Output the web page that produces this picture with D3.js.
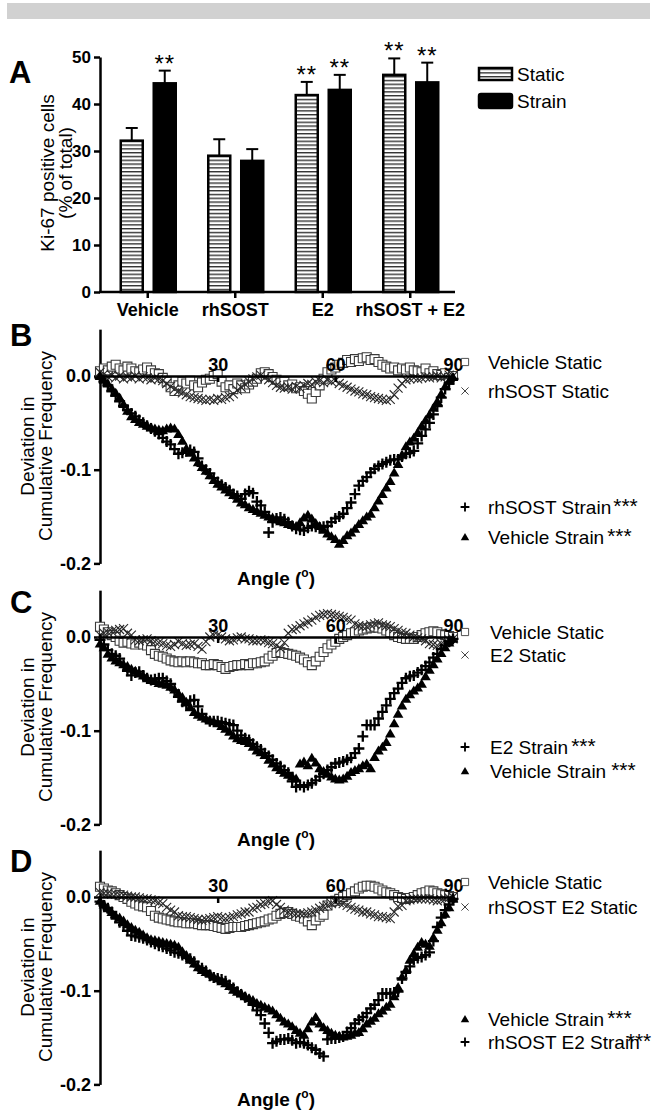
<!DOCTYPE html>
<html>
<head>
<meta charset="utf-8">
<script src="https://cdn.jsdelivr.net/npm/d3@7"></script>
<style>
  body { margin: 0; background: #fff; }
  svg text { font-family: "Liberation Sans", Arial, Helvetica, sans-serif; fill: #000; }
</style>
</head>
<body>
<svg id="fig" width="654" height="1111"></svg>
<script>
// ---- panel A : Ki-67 bars ----
const groups = ["Vehicle", "rhSOST", "E2", "rhSOST + E2"];
const conditions = ["Static", "Strain"];
const staticMean = [32.2, 29.0, 41.9, 46.2];
const staticSem  = [2.7, 3.5, 2.8, 3.5];
const strainMean = [44.4, 27.9, 43.0, 44.6];
const strainSem  = [2.7, 2.5, 3.2, 4.2];
const staticStars = ["", "", "**", "**"];
const strainStars = ["**", "", "**", "**"];
const barTicks = [0, 10, 20, 30, 40, 50];

// ---- panels B-D : deviation in cumulative frequency, one value per degree 0..90 ----
const angles = d3.range(0, 91);
const angleTicks = [30, 60, 90];
const devTicks = [0, -0.1, -0.2];

const bVehicleStatic = [0.005,0.008,0.006,0.010,0.012,0.008,0.006,0.010,0.008,0.005,0.004,0.007,0.009,0.006,0.003,0.002,-0.002,-0.006,-0.012,-0.016,-0.010,-0.006,-0.008,-0.005,-0.010,-0.012,-0.007,-0.004,-0.003,0.000,0.002,-0.006,-0.012,-0.010,-0.014,-0.008,-0.010,-0.013,-0.009,-0.006,-0.003,0.003,0.004,0.002,-0.001,-0.004,-0.007,-0.006,-0.010,-0.009,-0.013,-0.012,-0.016,-0.019,-0.024,-0.017,-0.010,-0.003,0.004,0.007,0.009,0.012,0.014,0.017,0.015,0.018,0.016,0.019,0.020,0.017,0.018,0.015,0.012,0.010,0.008,0.009,0.006,0.008,0.007,0.009,0.006,0.005,0.004,0.008,0.003,0.005,0.002,0.001,0.003,-0.002,0.000];
const bRhsostStatic = [0.004,0.002,-0.001,0.001,-0.002,0.000,-0.003,-0.001,-0.002,0.000,-0.003,-0.001,-0.002,-0.004,-0.002,-0.003,-0.005,-0.008,-0.011,-0.014,-0.016,-0.018,-0.020,-0.022,-0.023,-0.024,-0.025,-0.026,-0.025,-0.026,-0.024,-0.025,-0.023,-0.022,-0.019,-0.015,-0.012,-0.009,-0.006,-0.003,-0.001,0.001,-0.002,-0.004,-0.007,-0.010,-0.012,-0.013,-0.012,-0.014,-0.011,-0.013,-0.010,-0.008,-0.009,-0.006,-0.005,-0.007,-0.004,-0.006,-0.005,-0.008,-0.010,-0.012,-0.014,-0.016,-0.017,-0.019,-0.020,-0.022,-0.023,-0.024,-0.025,-0.026,-0.025,-0.020,-0.013,-0.008,-0.004,-0.003,-0.002,-0.003,-0.002,-0.001,-0.002,-0.001,0.000,-0.002,-0.001,0.001,0.000];
const bRhsostStrain = [-0.002,-0.006,-0.010,-0.016,-0.021,-0.027,-0.032,-0.036,-0.040,-0.043,-0.047,-0.050,-0.053,-0.056,-0.059,-0.062,-0.066,-0.070,-0.073,-0.078,-0.083,-0.082,-0.080,-0.079,-0.081,-0.088,-0.096,-0.100,-0.104,-0.109,-0.113,-0.116,-0.119,-0.122,-0.126,-0.128,-0.131,-0.126,-0.123,-0.125,-0.134,-0.138,-0.145,-0.167,-0.156,-0.152,-0.151,-0.153,-0.156,-0.160,-0.163,-0.164,-0.165,-0.162,-0.160,-0.161,-0.162,-0.161,-0.160,-0.156,-0.152,-0.150,-0.147,-0.141,-0.135,-0.126,-0.117,-0.112,-0.108,-0.103,-0.099,-0.096,-0.094,-0.092,-0.090,-0.089,-0.089,-0.086,-0.083,-0.082,-0.080,-0.072,-0.064,-0.057,-0.050,-0.041,-0.032,-0.023,-0.014,-0.008,-0.003];
const bVehicleStrain = [0.000,-0.004,-0.008,-0.013,-0.018,-0.023,-0.030,-0.037,-0.043,-0.046,-0.049,-0.051,-0.053,-0.055,-0.056,-0.057,-0.058,-0.056,-0.055,-0.056,-0.062,-0.069,-0.077,-0.082,-0.087,-0.092,-0.097,-0.101,-0.106,-0.111,-0.115,-0.118,-0.121,-0.124,-0.127,-0.131,-0.135,-0.137,-0.140,-0.142,-0.144,-0.146,-0.148,-0.150,-0.151,-0.153,-0.155,-0.156,-0.158,-0.159,-0.160,-0.156,-0.151,-0.148,-0.152,-0.157,-0.160,-0.164,-0.168,-0.171,-0.174,-0.179,-0.175,-0.170,-0.167,-0.163,-0.158,-0.154,-0.150,-0.147,-0.140,-0.133,-0.126,-0.119,-0.112,-0.103,-0.094,-0.084,-0.075,-0.070,-0.066,-0.060,-0.053,-0.047,-0.041,-0.034,-0.027,-0.019,-0.011,-0.005,-0.001];

const cVehicleStatic = [0.011,0.008,0.005,0.002,0.000,-0.004,-0.006,-0.005,-0.007,-0.008,-0.006,-0.008,-0.009,-0.014,-0.018,-0.020,-0.021,-0.023,-0.025,-0.026,-0.027,-0.026,-0.027,-0.026,-0.027,-0.028,-0.028,-0.030,-0.030,-0.029,-0.030,-0.032,-0.034,-0.032,-0.031,-0.030,-0.030,-0.029,-0.030,-0.028,-0.028,-0.027,-0.026,-0.023,-0.020,-0.017,-0.016,-0.017,-0.018,-0.019,-0.020,-0.022,-0.024,-0.027,-0.030,-0.026,-0.021,-0.016,-0.012,-0.008,-0.005,-0.002,0.000,0.002,0.004,0.005,0.007,0.008,0.009,0.010,0.011,0.010,0.009,0.007,0.005,0.002,0.000,-0.001,-0.002,-0.002,-0.002,0.000,0.002,0.004,0.005,0.006,0.005,0.003,0.002,0.001,0.000];
const cE2Static = [0.002,0.004,0.005,0.006,0.007,0.008,0.009,0.004,0.002,-0.003,-0.004,-0.003,-0.002,-0.004,-0.005,-0.006,-0.007,-0.009,-0.010,-0.008,-0.005,-0.007,-0.009,-0.008,-0.007,-0.010,-0.013,-0.005,0.000,0.002,0.002,0.000,-0.002,-0.004,-0.003,-0.001,0.000,-0.002,-0.002,-0.004,-0.004,-0.003,-0.004,-0.006,-0.007,-0.009,-0.012,-0.006,0.004,0.008,0.009,0.012,0.014,0.016,0.018,0.021,0.023,0.024,0.025,0.024,0.023,0.022,0.021,0.019,0.018,0.014,0.012,0.011,0.011,0.013,0.014,0.015,0.013,0.012,0.011,0.009,0.007,0.005,0.004,0.002,0.000,-0.001,-0.002,-0.004,-0.007,-0.008,-0.009,-0.007,-0.005,-0.003,-0.002];
const cE2Strain = [-0.003,-0.008,-0.014,-0.018,-0.020,-0.023,-0.030,-0.036,-0.041,-0.038,-0.037,-0.041,-0.044,-0.046,-0.045,-0.044,-0.044,-0.047,-0.050,-0.057,-0.064,-0.069,-0.073,-0.068,-0.067,-0.074,-0.082,-0.087,-0.090,-0.090,-0.090,-0.091,-0.092,-0.093,-0.094,-0.100,-0.105,-0.108,-0.110,-0.114,-0.117,-0.120,-0.124,-0.127,-0.131,-0.135,-0.138,-0.142,-0.145,-0.154,-0.160,-0.158,-0.160,-0.158,-0.156,-0.153,-0.149,-0.146,-0.142,-0.139,-0.135,-0.134,-0.133,-0.131,-0.129,-0.124,-0.119,-0.106,-0.094,-0.094,-0.094,-0.087,-0.080,-0.073,-0.066,-0.060,-0.055,-0.049,-0.044,-0.042,-0.041,-0.038,-0.035,-0.031,-0.027,-0.022,-0.018,-0.013,-0.009,-0.005,-0.002];
const cVehicleStrain = [-0.007,-0.011,-0.018,-0.022,-0.025,-0.027,-0.029,-0.031,-0.034,-0.036,-0.039,-0.041,-0.044,-0.046,-0.047,-0.049,-0.050,-0.051,-0.053,-0.056,-0.060,-0.064,-0.069,-0.075,-0.080,-0.083,-0.085,-0.087,-0.089,-0.090,-0.092,-0.095,-0.098,-0.101,-0.105,-0.108,-0.110,-0.111,-0.113,-0.117,-0.121,-0.123,-0.126,-0.131,-0.135,-0.139,-0.142,-0.145,-0.147,-0.149,-0.151,-0.135,-0.133,-0.137,-0.129,-0.134,-0.140,-0.143,-0.146,-0.149,-0.151,-0.152,-0.151,-0.148,-0.144,-0.142,-0.140,-0.137,-0.135,-0.140,-0.128,-0.121,-0.117,-0.112,-0.103,-0.092,-0.082,-0.073,-0.066,-0.061,-0.057,-0.054,-0.050,-0.042,-0.035,-0.029,-0.023,-0.017,-0.011,-0.006,-0.002];

const dVehicleStatic = [0.011,0.009,0.007,0.006,0.004,0.002,0.000,-0.002,-0.005,-0.007,-0.009,-0.010,-0.011,-0.015,-0.020,-0.022,-0.023,-0.024,-0.025,-0.026,-0.027,-0.027,-0.028,-0.028,-0.028,-0.029,-0.030,-0.030,-0.030,-0.031,-0.032,-0.033,-0.034,-0.033,-0.032,-0.032,-0.032,-0.031,-0.030,-0.029,-0.028,-0.027,-0.026,-0.024,-0.023,-0.020,-0.018,-0.017,-0.016,-0.018,-0.020,-0.021,-0.023,-0.026,-0.030,-0.025,-0.021,-0.019,-0.009,-0.005,-0.004,-0.002,0.000,0.002,0.004,0.006,0.009,0.011,0.012,0.012,0.011,0.009,0.007,0.005,0.004,0.002,0.000,-0.001,-0.002,-0.001,0.000,0.002,0.004,0.005,0.007,0.006,0.004,0.003,0.002,0.001,0.000];
const dRhsostE2Static = [0.005,0.004,0.004,0.003,0.003,0.002,0.002,0.001,0.000,0.000,-0.001,-0.002,-0.002,-0.003,-0.004,-0.006,-0.007,-0.011,-0.014,-0.016,-0.020,-0.021,-0.021,-0.022,-0.023,-0.024,-0.025,-0.024,-0.023,-0.022,-0.021,-0.022,-0.023,-0.022,-0.021,-0.019,-0.018,-0.016,-0.016,-0.012,-0.011,-0.008,-0.007,-0.005,-0.004,-0.008,-0.011,-0.014,-0.016,-0.017,-0.018,-0.018,-0.018,-0.017,-0.016,-0.014,-0.012,-0.010,-0.009,-0.007,-0.005,-0.006,-0.007,-0.009,-0.011,-0.013,-0.014,-0.016,-0.016,-0.018,-0.019,-0.021,-0.021,-0.022,-0.023,-0.016,-0.010,-0.009,-0.004,-0.003,-0.002,-0.002,-0.002,-0.002,-0.002,-0.003,-0.004,-0.003,-0.002,-0.001,0.000];
const dVehicleStrain = [-0.004,-0.008,-0.012,-0.016,-0.020,-0.022,-0.025,-0.029,-0.032,-0.035,-0.037,-0.040,-0.043,-0.045,-0.046,-0.047,-0.048,-0.049,-0.050,-0.051,-0.053,-0.058,-0.062,-0.067,-0.071,-0.075,-0.078,-0.080,-0.082,-0.085,-0.087,-0.090,-0.092,-0.095,-0.099,-0.101,-0.103,-0.106,-0.108,-0.110,-0.113,-0.115,-0.117,-0.119,-0.121,-0.125,-0.129,-0.133,-0.135,-0.138,-0.142,-0.145,-0.147,-0.140,-0.133,-0.128,-0.135,-0.139,-0.142,-0.145,-0.147,-0.148,-0.149,-0.148,-0.147,-0.145,-0.144,-0.140,-0.135,-0.132,-0.129,-0.124,-0.121,-0.117,-0.114,-0.106,-0.096,-0.085,-0.078,-0.067,-0.060,-0.053,-0.048,-0.050,-0.052,-0.043,-0.035,-0.027,-0.018,-0.011,-0.002];
const dRhsostE2Strain = [-0.005,-0.009,-0.012,-0.016,-0.022,-0.027,-0.030,-0.036,-0.041,-0.042,-0.043,-0.044,-0.046,-0.048,-0.050,-0.052,-0.053,-0.055,-0.057,-0.059,-0.060,-0.062,-0.064,-0.066,-0.069,-0.074,-0.076,-0.079,-0.084,-0.086,-0.087,-0.088,-0.090,-0.094,-0.097,-0.101,-0.104,-0.107,-0.110,-0.115,-0.121,-0.126,-0.135,-0.145,-0.156,-0.154,-0.152,-0.152,-0.151,-0.153,-0.156,-0.155,-0.156,-0.158,-0.161,-0.163,-0.167,-0.170,-0.152,-0.151,-0.151,-0.150,-0.149,-0.144,-0.140,-0.135,-0.131,-0.128,-0.124,-0.119,-0.115,-0.110,-0.103,-0.103,-0.103,-0.102,-0.101,-0.087,-0.080,-0.074,-0.067,-0.065,-0.064,-0.062,-0.059,-0.047,-0.032,-0.022,-0.014,-0.008,-0.002];

// marker shapes
var markers = {
  square:   { d: "M-4.5,-4.5h9v9h-9z", fill: "#fff", stroke: "#3a3a3a", sw: 1.1 },
  times:    { d: "M-4.5,-4.5L4.5,4.5M-4.5,4.5L4.5,-4.5", fill: "none", stroke: "#2a2a2a", sw: 1.1 },
  plus:     { d: "M-5.5,0H5.5M0,-5.5V5.5", fill: "none", stroke: "#000", sw: 2.3 },
  triangle: { d: "M0,-5L5.3,4H-5.3Z", fill: "#000", stroke: "none", sw: 0 }
};

var svg = d3.select("#fig");

svg.append("rect").attr("x", 7).attr("y", 3).attr("width", 643).attr("height", 16).attr("fill", "#d1d1d1");

var defs = svg.append("defs");
var pat = defs.append("pattern").attr("id", "stripes")
  .attr("patternUnits", "userSpaceOnUse").attr("width", 8).attr("height", 3.8);
pat.append("rect").attr("width", 8).attr("height", 3.8).attr("fill", "#fff");
pat.append("rect").attr("width", 8).attr("height", 1.4).attr("fill", "#333");

function styleAxis(g, size) {
  g.select(".domain").attr("stroke", "#000").attr("stroke-width", 2.5);
  g.selectAll(".tick line").attr("stroke", "#000").attr("stroke-width", 2.5);
  g.selectAll(".tick text").attr("font-size", size).attr("font-weight", "bold").attr("fill", "#000")
    .attr("font-family", "'Liberation Sans', Arial, sans-serif");
}

// ================= Panel A =================
var yBar = d3.scaleLinear().domain([0, 50]).range([292, 57]);
var xGroup = d3.scaleBand().domain(groups).range([104, 454]);
var xCond = d3.scaleBand().domain(conditions).range([-27, 28]).paddingInner(0.333);

var barRows = [];
groups.forEach(function(g, i) {
  barRows.push({ g: g, c: "Static", m: staticMean[i], e: staticSem[i], s: staticStars[i] });
  barRows.push({ g: g, c: "Strain", m: strainMean[i], e: strainSem[i], s: strainStars[i] });
});

var gA = svg.append("g");
var bar = gA.selectAll(".bar").data(barRows).enter().append("g");
bar.each(function(d) {
  var g = d3.select(this);
  var x0 = xGroup(d.g) + xGroup.bandwidth() / 2 + xCond(d.c);
  var xc = x0 + xCond.bandwidth() / 2;
  var top = yBar(d.m + d.e);
  g.append("line").attr("x1", xc).attr("x2", xc).attr("y1", yBar(d.m)).attr("y2", top)
    .attr("stroke", "#000").attr("stroke-width", 2);
  g.append("line").attr("x1", xc - 6).attr("x2", xc + 6).attr("y1", top).attr("y2", top)
    .attr("stroke", "#000").attr("stroke-width", 2);
  g.append("rect").attr("x", x0).attr("y", yBar(d.m))
    .attr("width", xCond.bandwidth()).attr("height", yBar(0) - yBar(d.m))
    .attr("fill", d.c === "Static" ? "url(#stripes)" : "#000")
    .attr("stroke", "#000").attr("stroke-width", 2.5);
  if (d.s) {
    g.append("text").attr("x", xc).attr("y", top + 1).attr("text-anchor", "middle")
      .attr("font-size", 24).attr("letter-spacing", 1).text(d.s);
  }
});

var axA = gA.append("g").attr("transform", "translate(100,0)")
  .call(d3.axisLeft(yBar).tickValues(barTicks).tickSizeInner(6).tickSizeOuter(0).tickPadding(3));
styleAxis(axA, 17);

var axAx = gA.append("g").attr("transform", "translate(0,292)")
  .call(d3.axisBottom(xGroup).tickSizeInner(6).tickSizeOuter(0));
axAx.select(".domain").remove();
styleAxis(axAx, 18);
axAx.selectAll(".tick text").attr("y", 24).attr("dy", 0);
gA.append("line").attr("x1", 99).attr("x2", 455).attr("y1", 292).attr("y2", 292)
  .attr("stroke", "#000").attr("stroke-width", 2.5);

gA.append("text").attr("transform", "translate(54,173) rotate(-90)")
  .attr("text-anchor", "middle").attr("font-size", 19).text("Ki-67 positive cells");
gA.append("text").attr("transform", "translate(72,173) rotate(-90)")
  .attr("text-anchor", "middle").attr("font-size", 19).text("(% of total)");

gA.append("text").attr("x", 9).attr("y", 83).attr("font-size", 31).attr("font-weight", "bold").text("A");

// legend A
var legA = gA.append("g");
legA.append("rect").attr("x", 479).attr("y", 68).attr("width", 33).attr("height", 12)
  .attr("fill", "url(#stripes)").attr("stroke", "#000").attr("stroke-width", 2.5);
legA.append("rect").attr("x", 479).attr("y", 94).attr("width", 33).attr("height", 14).attr("rx", 2)
  .attr("fill", "#000").attr("stroke", "#000").attr("stroke-width", 2.5);
legA.append("text").attr("x", 517).attr("y", 81).attr("font-size", 19).text(conditions[0]);
legA.append("text").attr("x", 517).attr("y", 108).attr("font-size", 19).text(conditions[1]);

// ================= Panels B-D =================
var panels = [
  { letter: "B", zero: 376, letterY: 346, textX: 488, series: [
      { vals: bVehicleStatic, m: "square",   label: "Vehicle Static", ly: -14 },
      { vals: bRhsostStatic,  m: "times",    label: "rhSOST Static",  ly: 15 },
      { vals: bRhsostStrain,  m: "plus",     label: "rhSOST Strain",  ly: 131, stars: "***", sdx: 2 },
      { vals: bVehicleStrain, m: "triangle", label: "Vehicle Strain", ly: 161, stars: "***", sdx: 3 } ] },
  { letter: "C", zero: 637, letterY: 613, textX: 490, series: [
      { vals: cVehicleStatic, m: "square",   label: "Vehicle Static", ly: -5 },
      { vals: cE2Static,      m: "times",    label: "E2 Static",      ly: 18 },
      { vals: cE2Strain,      m: "plus",     label: "E2 Strain",      ly: 110, stars: "***", sdx: 3 },
      { vals: cVehicleStrain, m: "triangle", label: "Vehicle Strain", ly: 134, stars: "***", sdx: 5 } ] },
  { letter: "D", zero: 897, letterY: 872, textX: 488, series: [
      { vals: dVehicleStatic,  m: "square",   label: "Vehicle Static",   ly: -15 },
      { vals: dRhsostE2Static, m: "times",    label: "rhSOST E2 Static", ly: 10 },
      { vals: dVehicleStrain,  m: "triangle", label: "Vehicle Strain",   ly: 122, stars: "***", sdx: 3 },
      { vals: dRhsostE2Strain, m: "plus",     label: "rhSOST E2 Strain", ly: 145, stars: "***", sdx: -13 } ] }
];

var drawOrder = ["square", "times", "plus", "triangle"];

function drawPanel(p) {
  var g = svg.append("g");
  var x = d3.scaleLinear().domain([0, 90]).range([100, 453]);
  var y = d3.scaleLinear().domain([-0.2, 0.05]).range([p.zero + 187.4, p.zero - 46.85]);

  var ay = g.append("g").attr("transform", "translate(100,0)")
    .call(d3.axisLeft(y).tickValues(devTicks).tickSizeInner(6).tickSizeOuter(0).tickPadding(3)
      .tickFormat(function(d) { return d.toFixed(1); }));
  styleAxis(ay, 18);

  var ax = g.append("g").attr("transform", "translate(0," + y(0) + ")")
    .call(d3.axisBottom(x).tickValues(angleTicks).tickSizeInner(6).tickSizeOuter(0));
  styleAxis(ax, 18);
  ax.selectAll(".tick text").attr("y", -5).attr("dy", 0);

  drawOrder.forEach(function(name) {
    p.series.filter(function(s) { return s.m === name; }).forEach(function(s) {
      var mk = markers[s.m];
      g.append("g").selectAll("path").data(angles).enter().append("path")
        .attr("transform", function(a, i) { return "translate(" + x(a) + "," + y(s.vals[i]) + ")"; })
        .attr("d", mk.d).attr("fill", mk.fill).attr("stroke", mk.stroke).attr("stroke-width", mk.sw);
    });
  });

  ax.raise();
  ax.select(".domain").lower();

  // axis title
  var t = g.append("text").attr("x", 276).attr("y", p.zero + 209).attr("text-anchor", "middle")
    .attr("font-size", 19).attr("font-weight", "bold");
  t.append("tspan").text("Angle (");
  t.append("tspan").attr("font-size", 12).attr("dy", -8).text("o");
  t.append("tspan").attr("dy", 8).text(")");

  g.append("text").attr("transform", "translate(34," + (p.zero + 70) + ") rotate(-90)")
    .attr("text-anchor", "middle").attr("font-size", 19).text("Deviation in");
  g.append("text").attr("transform", "translate(52," + (p.zero + 70) + ") rotate(-90)")
    .attr("text-anchor", "middle").attr("font-size", 19).text("Cumulative Frequency");

  g.append("text").attr("x", 10).attr("y", p.letterY).attr("font-size", 31).attr("font-weight", "bold").text(p.letter);

  // legend
  p.series.forEach(function(s) {
    var cy = p.zero + s.ly;
    var mk = markers[s.m];
    g.append("path").attr("transform", "translate(465," + cy + ") scale(0.8)")
      .attr("d", mk.d).attr("fill", mk.fill).attr("stroke", mk.stroke).attr("stroke-width", mk.sw);
    var lt = g.append("text").attr("x", p.textX).attr("y", cy + 7).attr("font-size", 19);
    lt.append("tspan").text(s.label);
    if (s.stars) lt.append("tspan").attr("dx", s.sdx).attr("dy", -1).attr("font-size", 21).text(s.stars);
  });
}

panels.forEach(drawPanel);
</script>
</body>
</html>
